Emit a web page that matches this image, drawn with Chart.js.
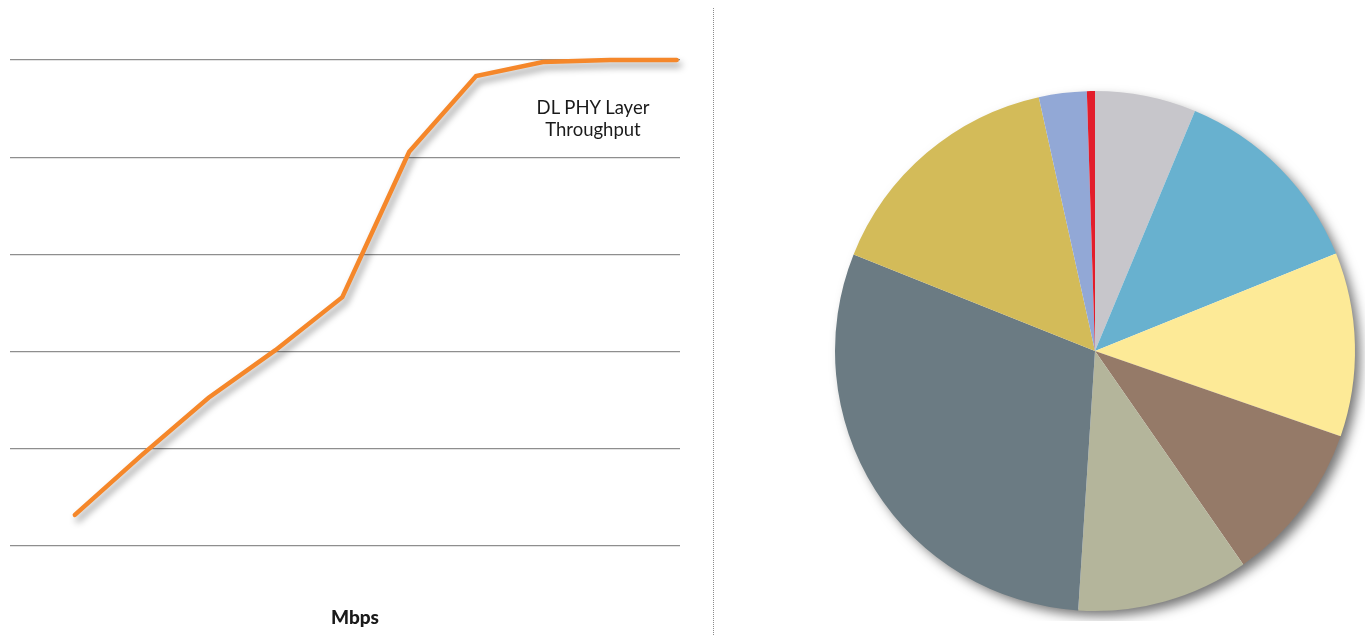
<!DOCTYPE html>
<html>
<head>
<meta charset="utf-8">
<script src="https://cdn.jsdelivr.net/npm/chart.js@4.4.1/dist/chart.umd.min.js"></script>
<style>
  body { margin: 0; width: 1372px; height: 635px; background: #fff; position: relative; overflow: hidden; font-family: Lato, "Open Sans", sans-serif; }
  #lineBox { position: absolute; left: 0; top: 0; width: 700px; height: 635px; }
  #pieBox { position: absolute; left: 825px; top: 81px; width: 540px; height: 540px; }
  #sep { position: absolute; left: 713px; top: 8px; height: 627px; border-left: 1px dotted #8c8c8c; }
  .lbl { position: absolute; color: #1a1a1a; text-align: center; line-height: 22px; }
</style>
</head>
<body>
<div id="lineBox"><canvas id="lineChart"></canvas></div>
<div id="sep"></div>
<div id="pieBox"><canvas id="pieChart"></canvas></div>
<div class="lbl" style="left:503px; top:96px; width:180px; font-size:18.5px;">DL PHY Layer<br>Throughput</div>
<div class="lbl" style="left:295px; top:606px; width:120px; font-size:19px; font-weight:900;">Mbps</div>
<script>
// line chart data (x positions are just step indices, no tick labels shown)
var steps = [0, 1, 2, 3, 4, 5, 6, 7, 8, 9];
var throughput = [6.4, 18.7, 30.5, 40.3, 51.2, 81.1, 96.7, 99.6, 100, 100];
var yTicks = [0, 20, 40, 60, 80, 100];

// pie chart data, clockwise from 12 o'clock
var pieLabels = ['A', 'B', 'C', 'D', 'E', 'F', 'G', 'H', 'I'];
var pieValues = [6.28, 12.61, 11.42, 10.03, 10.69, 30.03, 15.47, 2.97, 0.5];
var pieColors = ['#c7c6cb', '#68b1cf', '#fdea97', '#957a68', '#b4b59b', '#6b7b83', '#d3bb59', '#92a8d6', '#e31d2b'];

const lineShadow = {
    id: 'lineShadow',
    beforeDatasetsDraw(chart) {
        const c = chart.ctx;
        c.save();
        c.shadowColor = 'rgba(0,0,0,0.4)';
        c.shadowBlur = 7;
        c.shadowOffsetX = 3;
        c.shadowOffsetY = 5;
    },
    afterDatasetsDraw(chart) { chart.ctx.restore(); }
};

const pieShadow = {
    id: 'pieShadow',
    beforeDatasetsDraw(chart) {
        const arc = chart.getDatasetMeta(0).data[0];
        if (!arc) return;
        const c = chart.ctx;
        c.save();
        c.shadowColor = 'rgba(0,0,0,0.55)';
        c.shadowBlur = 12;
        c.shadowOffsetX = 6;
        c.shadowOffsetY = 6;
        c.fillStyle = '#ffffff';
        c.beginPath();
        c.arc(arc.x, arc.y, arc.outerRadius - 1, 0, Math.PI * 2);
        c.fill();
        c.restore();
    }
};

new Chart(document.getElementById('lineChart'), {
    type: 'line',
    data: {
        datasets: [{
            data: steps.map((s, i) => ({ x: s, y: throughput[i] })),
            borderColor: '#f5872a',
            borderWidth: 4.5,
            borderCapStyle: 'round',
            borderJoinStyle: 'miter',
            pointRadius: 0,
            tension: 0,
            clip: false
        }]
    },
    options: {
        responsive: true,
        maintainAspectRatio: false,
        animation: false,
        layout: { padding: { left: 10, top: 60, right: 20, bottom: 89 } },
        plugins: { legend: { display: false }, tooltip: { enabled: false } },
        scales: {
            x: { type: 'linear', min: -0.97, max: 9.05, display: false },
            y: {
                min: 0, max: 100,
                afterBuildTicks: axis => { axis.ticks = yTicks.map(v => ({ value: v })); },
                ticks: { display: false },
                border: { display: false },
                grid: { color: '#8e8e8e', lineWidth: 1.3, drawTicks: false }
            }
        }
    },
    plugins: [lineShadow]
});

new Chart(document.getElementById('pieChart'), {
    type: 'pie',
    data: {
        labels: pieLabels,
        datasets: [{ data: pieValues, backgroundColor: pieColors, borderWidth: 0 }]
    },
    options: {
        responsive: true,
        maintainAspectRatio: false,
        animation: false,
        layout: { padding: 10 },
        plugins: { legend: { display: false }, tooltip: { enabled: false } }
    },
    plugins: [pieShadow]
});
</script>
</body>
</html>
